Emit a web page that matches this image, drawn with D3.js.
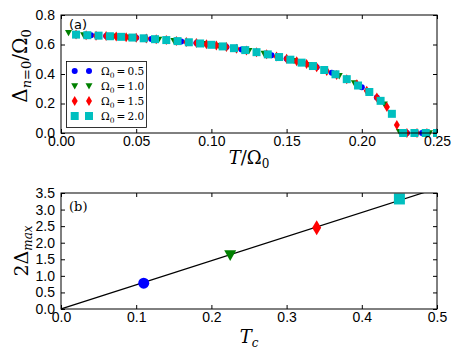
<!DOCTYPE html>
<html>
<head>
<meta charset="utf-8">
<script src="https://cdn.jsdelivr.net/npm/d3@7"></script>
<style>
  body { margin: 0; background: #fff; }
  svg { font-family: "DejaVu Serif", serif; }
  .frame { fill: none; stroke: #000; stroke-width: 1; }
  .tick line { stroke: #000; }
  .tick text { font-size: 14px; fill: #000; }
  .domain { display: none; }
</style>
</head>
<body>
<div id="chart"></div>
<script>
// panel (a): Delta_{n=0}/Omega_0 vs T/Omega_0
const omegaLabels = ['0.5', '1.0', '1.5', '2.0'];
const colors = ['#0000ff', '#008000', '#ff0000', '#00bfbf'];
const shapes = ['circle', 'tri', 'diamond', 'square'];

const blueT = [0.01, 0.02, 0.03, 0.04, 0.05, 0.06, 0.07, 0.08, 0.09, 0.10, 0.11, 0.12, 0.13,
  0.14, 0.15, 0.16, 0.17, 0.18, 0.19, 0.20, 0.21, 0.22, 0.23, 0.24, 0.25];
const blueD = [0.667, 0.662, 0.657, 0.652, 0.645, 0.638, 0.630, 0.620, 0.610, 0.598, 0.583, 0.566, 0.548,
  0.527, 0.503, 0.477, 0.445, 0.408, 0.365, 0.310, 0.240, 0.130, 0, 0, 0];

const greenT = [0.005, 0.015, 0.025, 0.035, 0.045, 0.055, 0.065, 0.075, 0.085, 0.095, 0.105, 0.115, 0.125,
  0.135, 0.145, 0.155, 0.165, 0.175, 0.185, 0.195, 0.205, 0.215, 0.225, 0.235, 0.245];
const greenD = [0.680, 0.664, 0.660, 0.655, 0.649, 0.642, 0.634, 0.625, 0.615, 0.604, 0.591, 0.575, 0.557,
  0.538, 0.515, 0.490, 0.462, 0.427, 0.387, 0.339, 0.278, 0.195, 0.008, 0, 0];

const redT = [0.01, 0.0167, 0.0233, 0.03, 0.0367, 0.0433, 0.05, 0.0567, 0.0633, 0.07, 0.0767, 0.0833, 0.09,
  0.0967, 0.1033, 0.11, 0.1167, 0.1233, 0.13, 0.1367, 0.1433, 0.15, 0.1567, 0.1633, 0.17, 0.1767, 0.1833,
  0.19, 0.1967, 0.2033, 0.21, 0.2167, 0.2233, 0.23, 0.2367, 0.2433, 0.25];
const redD = [0.667, 0.663, 0.660, 0.657, 0.654, 0.650, 0.645, 0.640, 0.635, 0.630, 0.623, 0.617, 0.610,
  0.602, 0.593, 0.583, 0.572, 0.560, 0.548, 0.534, 0.519, 0.503, 0.486, 0.467, 0.445, 0.421, 0.394,
  0.365, 0.330, 0.287, 0.240, 0.176, 0.055, 0, 0, 0, 0];

const cyanT = [0.01, 0.0175, 0.025, 0.0325, 0.04, 0.0475, 0.055, 0.0625, 0.07, 0.0775, 0.085, 0.0925, 0.10,
  0.1075, 0.115, 0.1225, 0.13, 0.1375, 0.145, 0.1525, 0.16, 0.1675, 0.175, 0.1825, 0.19, 0.1975, 0.205,
  0.2125, 0.22, 0.2275, 0.235, 0.2425, 0.25];
const cyanD = [0.667, 0.663, 0.660, 0.656, 0.652, 0.647, 0.642, 0.636, 0.630, 0.623, 0.615, 0.607, 0.598,
  0.587, 0.575, 0.562, 0.548, 0.533, 0.515, 0.497, 0.477, 0.454, 0.427, 0.398, 0.365, 0.322, 0.278,
  0.218, 0.130, 0, 0, 0, 0];

const xTicksA = [0, 0.05, 0.10, 0.15, 0.20, 0.25];
const yTicksA = [0, 0.2, 0.4, 0.6, 0.8];

// panel (b): 2*Delta_max vs T_c
const tc = [0.11, 0.225, 0.34, 0.45];
const gap2 = [0.78, 1.63, 2.45, 3.32];
const fitT = [0, 0.5];
const fitG = [0, 3.64];
const xTicksB = [0, 0.1, 0.2, 0.3, 0.4, 0.5];
const yTicksB = [0, 0.5, 1.0, 1.5, 2.0, 2.5, 3.0, 3.5];

const width = 463, height = 360;
const left = 61, right = 437;

const svg = d3.select('#chart').append('svg')
  .attr('width', width).attr('height', height);

function markerPath(shape, s) {
  const p = d3.path();
  if (shape === 'circle') {
    p.arc(0, 0, s / 2, 0, 2 * Math.PI);
  } else if (shape === 'tri') {
    p.moveTo(-s / 2, -s * 0.4); p.lineTo(s / 2, -s * 0.4); p.lineTo(0, s * 0.5); p.closePath();
  } else if (shape === 'diamond') {
    p.moveTo(0, -s / 2); p.lineTo(s * 0.3, 0); p.lineTo(0, s / 2); p.lineTo(-s * 0.3, 0); p.closePath();
  } else {
    p.rect(-s / 2, -s / 2, s, s);
  }
  return p.toString();
}

function drawAxes(g, x, y, xt, yt, fmtX, fmtY, top, bottom) {
  g.append('g').attr('transform', `translate(0,${bottom})`)
    .call(d3.axisBottom(x).tickValues(xt).tickSize(-4).tickPadding(3).tickFormat(fmtX));
  g.append('g').attr('transform', `translate(0,${top})`)
    .call(d3.axisTop(x).tickValues(xt).tickSize(-4).tickFormat(''));
  g.append('g').attr('transform', `translate(${left},0)`)
    .call(d3.axisLeft(y).tickValues(yt).tickSize(-4).tickPadding(6).tickFormat(fmtY));
  g.append('g').attr('transform', `translate(${right},0)`)
    .call(d3.axisRight(y).tickValues(yt).tickSize(-4).tickFormat(''));
  g.append('rect').attr('class', 'frame')
    .attr('x', left).attr('y', top).attr('width', right - left).attr('height', bottom - top);
}

// ---------- panel (a) ----------
const topA = 15, botA = 133;
const xA = d3.scaleLinear().domain([0, 0.25]).range([left, right]);
const yA = d3.scaleLinear().domain([0, 0.8]).range([botA, topA]);
const gA = svg.append('g');

svg.append('clipPath').attr('id', 'clipA').append('rect')
  .attr('x', left).attr('y', topA - 6).attr('width', right - left).attr('height', botA - topA + 12);

const seriesA = [[blueT, blueD], [greenT, greenD], [redT, redD], [cyanT, cyanD]];
const sizesA = [6, 7, 10, 8];
const pts = gA.append('g').attr('clip-path', 'url(#clipA)');
seriesA.forEach(([ts, ds], i) => {
  pts.selectAll(null).data(ts).enter().append('path')
    .attr('d', markerPath(shapes[i], sizesA[i]))
    .attr('transform', (t, j) => `translate(${xA(t)},${yA(ds[j])})`)
    .attr('fill', colors[i]);
});

drawAxes(gA, xA, yA, xTicksA, yTicksA, d3.format('.2f'), d3.format('.1f'), topA, botA);

gA.append('text').attr('x', 69).attr('y', 29)
  .attr('font-family', 'DejaVu Sans').attr('font-size', 13).text('(a)');

// legend
const leg = gA.append('g');
leg.append('rect').attr('x', 66.5).attr('y', 61.5).attr('width', 80).attr('height', 66)
  .attr('fill', '#fff').attr('stroke', '#000').attr('stroke-width', 0.8);
omegaLabels.forEach((lab, i) => {
  const ly = 71 + i * 15;
  [74.7, 89].forEach(mx => {
    leg.append('path').attr('d', markerPath(shapes[i], sizesA[i]))
      .attr('transform', `translate(${mx},${ly})`).attr('fill', colors[i]);
  });
  const t = leg.append('text').attr('x', 101).attr('y', ly + 4).attr('font-size', 10.5);
  t.append('tspan').text('Ω');
  t.append('tspan').attr('font-size', 7.5).attr('dy', 3).text('0');
  t.append('tspan').attr('dy', -3).text('\u2009=\u2009' + lab);
});

// axis labels (a)
const xlA = gA.append('text').attr('x', (left + right) / 2).attr('y', 164)
  .attr('text-anchor', 'middle').attr('font-size', 18);
xlA.append('tspan').attr('font-style', 'italic').text('T');
xlA.append('tspan').text('/');
xlA.append('tspan').text('Ω');
xlA.append('tspan').attr('font-size', 12).attr('dy', 4).text('0');

const ylA = gA.append('text').attr('transform', `translate(27,${(topA + botA) / 2 - 8}) rotate(-90)`)
  .attr('text-anchor', 'middle').attr('font-size', 20);
ylA.append('tspan').text('Δ');
ylA.append('tspan').attr('font-size', 13).attr('dy', 4).attr('font-style', 'italic').text('n');
ylA.append('tspan').attr('font-size', 13).text('=0');
ylA.append('tspan').attr('dy', -4).text('/');
ylA.append('tspan').text('Ω');
ylA.append('tspan').attr('font-size', 13).attr('dy', 4).text('0');

// ---------- panel (b) ----------
const topB = 193, botB = 309;
const xB = d3.scaleLinear().domain([0, 0.5]).range([left, right]);
const yB = d3.scaleLinear().domain([0, 3.5]).range([botB, topB]);
const gB = svg.append('g');

svg.append('clipPath').attr('id', 'clipB').append('rect')
  .attr('x', left).attr('y', topB).attr('width', right - left).attr('height', botB - topB);

const plotB = gB.append('g').attr('clip-path', 'url(#clipB)');
plotB.append('path')
  .datum(fitT.map((t, i) => [t, fitG[i]]))
  .attr('d', d3.line().x(d => xB(d[0])).y(d => yB(d[1])))
  .attr('fill', 'none').attr('stroke', '#000').attr('stroke-width', 1.2);

const sizesB = [11, 12, 15, 11];
plotB.selectAll(null).data(tc).enter().append('path')
  .attr('d', (d, i) => markerPath(shapes[i], sizesB[i]))
  .attr('transform', (d, i) => `translate(${xB(d)},${yB(gap2[i])})`)
  .attr('fill', (d, i) => colors[i]);

drawAxes(gB, xB, yB, xTicksB, yTicksB, d3.format('.1f'), d3.format('.1f'), topB, botB);

gB.append('text').attr('x', 69).attr('y', 211).attr('font-size', 13).text('(b)');

const xlB = gB.append('text').attr('x', (left + right) / 2).attr('y', 343)
  .attr('text-anchor', 'middle').attr('font-size', 18);
xlB.append('tspan').attr('font-style', 'italic').text('T');
xlB.append('tspan').attr('font-size', 12).attr('dy', 4).attr('font-style', 'italic').text('c');

const ylB = gB.append('text').attr('transform', `translate(28,${(topB + botB) / 2}) rotate(-90)`)
  .attr('text-anchor', 'middle').attr('font-size', 19);
ylB.append('tspan').text('2Δ');
ylB.append('tspan').attr('font-size', 12).attr('dy', 4).attr('font-style', 'italic').text('max');
</script>
</body>
</html>
